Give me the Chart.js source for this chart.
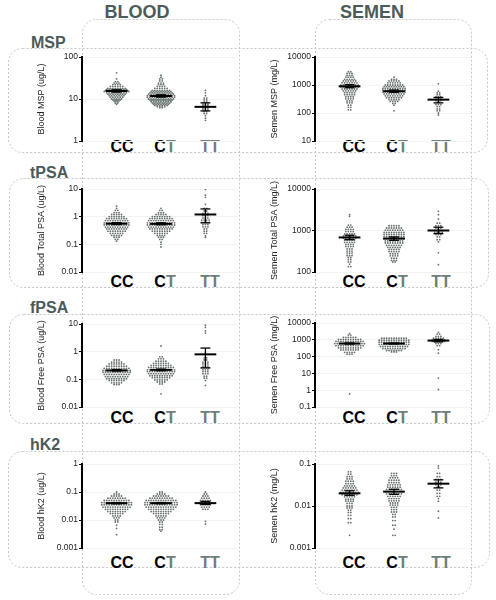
<!DOCTYPE html>
<html>
<head>
<meta charset="utf-8">
<script src="https://cdn.jsdelivr.net/npm/chart.js@4.4.0/dist/chart.umd.min.js"></script>
<style>
  body { margin: 0; background: #fff; font-family: "Liberation Sans", Arial, sans-serif; }
  #fig { position: relative; width: 496px; height: 600px; overflow: hidden; background: #fff; }
  #frames { position: absolute; left: 0; top: 0; }
  .hdr { position: absolute; font-weight: bold; font-size: 18px; line-height: 1; color: #4c5a5a; transform: translateX(-50%); }
  .rowlab { position: absolute; font-weight: bold; font-size: 16px; line-height: 1; color: #4c5a5a; }
  .cat { position: absolute; font-weight: bold; font-size: 16px; line-height: 1; transform: translateX(-50%); white-space: nowrap; }
  .c { color: #000; }
  .t { color: #6d7d7a; }
  canvas { position: absolute; }
</style>
</head>
<body>
<div id="fig">
  <svg id="frames" width="496" height="600">
    <g fill="none" stroke="#c6c6c6" stroke-width="1" stroke-dasharray="2 2">
      <rect x="82.5" y="19.5" width="157" height="575" rx="14"/>
      <rect x="315.5" y="19.5" width="156" height="575" rx="14"/>
      <rect x="8.5" y="48.5" width="479" height="104" rx="14"/>
      <rect x="9.5" y="178.5" width="479" height="109" rx="14"/>
      <rect x="9.5" y="314.5" width="480" height="109" rx="14"/>
      <rect x="8.5" y="451.5" width="481" height="116" rx="14"/>
    </g>
  </svg>

  <div class="hdr" style="left:137px;top:3px">BLOOD</div>
  <div class="hdr" style="left:372px;top:3px">SEMEN</div>

  <div class="rowlab" style="left:31px;top:35px">MSP</div>
  <div class="rowlab" style="left:30px;top:165px">tPSA</div>
  <div class="rowlab" style="left:30px;top:300px">fPSA</div>
  <div class="rowlab" style="left:30px;top:437px">hK2</div>

  <div id="cats"></div>
</div>

<script>
// categories
const groups = ['CC', 'CT', 'TT'];

// tick labels (log axes)
const bloodMspTicks  = [1, 10, 100];
const semenMspTicks  = [10, 100, 1000, 10000];
const bloodTpsaTicks = [0.01, 0.1, 1, 10];
const semenTpsaTicks = [100, 1000, 10000];
const bloodFpsaTicks = [0.01, 0.1, 1, 10];
const semenFpsaTicks = [0.1, 1, 10, 100, 1000, 10000];
const bloodHk2Ticks  = [0.001, 0.01, 0.1, 1];
const semenHk2Ticks  = [0.001, 0.01, 0.1];

// individual values: [value, number of dots at that level]
const bloodMspCC = [[42,1],[30,1],[26,2],[24,3],[22,4],[20,6],[18,8],[17,9],[16,10],[15,11],[14,9],[13,8],[12,7],[11,6],[10,5],[9.5,4],[9,3],[8.5,2],[8,2],[7.5,1]];
const bloodMspCT = [[37,1],[33,1],[30,2],[27,2],[24,3],[22,3],[20,4],[18,6],[16,8],[15,9],[14,10],[13,11],[12,12],[11,12],[10,11],[9.5,10],[9,9],[8.5,9],[8,8],[7.5,7],[7,6],[6.5,4],[6.2,2]];
const bloodMspTT = [[16,1],[14,1],[12,1],[10.5,2],[9.5,2],[8.5,2],[7.5,3],[7,3],[6.5,4],[6,3],[5.5,3],[5,2],[4.5,2],[4,1],[3.5,1],[3.1,1]];

const semenMspCC = [[3000,2],[2600,3],[2200,3],[1900,4],[1600,5],[1400,6],[1200,7],[1000,8],[850,8],[720,7],[620,6],[530,5],[450,5],[380,4],[320,4],[270,3],[230,3],[190,2],[160,2],[130,2]];
const semenMspCT = [[1900,1],[1600,3],[1400,5],[1200,6],[1000,8],[870,9],[750,10],[650,10],[560,10],[480,9],[410,8],[350,7],[300,5],[260,4],[220,2],[190,1],[120,1]];
const semenMspTT = [[1100,1],[600,1],[520,2],[450,2],[380,3],[320,3],[280,3],[240,2],[200,3],[170,2],[140,2],[120,2],[100,1],[85,1]];

const bloodTpsaCC = [[2.4,1],[2.0,1],[1.7,2],[1.4,3],[1.2,5],[1.0,7],[0.85,9],[0.72,10],[0.6,11],[0.5,11],[0.42,10],[0.36,9],[0.3,8],[0.25,6],[0.21,5],[0.18,3],[0.15,2],[0.13,1]];
const bloodTpsaCT = [[2.0,1],[1.7,2],[1.4,3],[1.2,5],[1.0,8],[0.85,10],[0.72,11],[0.6,12],[0.5,12],[0.42,11],[0.36,10],[0.3,8],[0.25,6],[0.21,4],[0.18,3],[0.15,2],[0.12,1],[0.1,1],[0.08,1]];
const bloodTpsaTT = [[9.5,1],[6,1],[5,1],[2.8,1],[2.0,2],[1.6,2],[1.3,3],[1.1,3],[0.9,3],[0.75,4],[0.62,4],[0.52,3],[0.43,3],[0.36,2],[0.3,2],[0.25,2],[0.2,1],[0.18,1]];

const semenTpsaCC = [[2400,1],[2200,1],[1350,2],[1200,3],[1060,4],[940,4],[830,5],[740,6],[660,6],[590,5],[520,5],[460,4],[410,4],[360,3],[320,3],[285,3],[250,3],[225,2],[200,2],[175,2],[155,1],[135,2]];
const semenTpsaCT = [[1300,5],[1150,7],[1020,8],[900,9],[800,9],[710,9],[630,9],[560,8],[500,8],[440,7],[390,6],[350,5],[310,5],[275,4],[245,4],[215,3],[190,3],[175,2]];
const semenTpsaTT = [[2900,1],[2400,1],[1900,1],[1500,2],[1300,3],[1150,3],[1000,4],[900,4],[800,3],[700,2],[600,2],[530,1],[290,1],[150,1]];

const bloodFpsaCC = [[0.5,3],[0.42,5],[0.36,7],[0.3,9],[0.25,11],[0.21,12],[0.18,12],[0.15,11],[0.125,10],[0.105,9],[0.09,7],[0.075,5],[0.065,3]];
const bloodFpsaCT = [[1.6,1],[0.65,2],[0.55,3],[0.45,5],[0.38,7],[0.32,9],[0.27,11],[0.22,12],[0.19,12],[0.16,11],[0.135,10],[0.115,8],[0.095,6],[0.08,4],[0.068,2],[0.03,1]];
const bloodFpsaTT = [[9,1],[7.5,1],[5.6,1],[4.7,1],[0.9,1],[0.6,2],[0.5,2],[0.42,3],[0.36,3],[0.3,3],[0.26,4],[0.22,3],[0.19,3],[0.16,3],[0.13,2],[0.11,2],[0.09,1],[0.06,1]];

const semenFpsaCC = [[2300,1],[1900,2],[1400,6],[1050,10],[800,12],[600,13],[450,12],[330,10],[250,8],[180,5],[140,3],[0.6,1]];
const semenFpsaCT = [[1250,11],[950,13],[720,13],[540,13],[400,12],[300,10],[230,7],[190,3]];
const semenFpsaTT = [[2800,1],[2200,2],[1600,3],[1250,5],[1000,6],[800,6],[600,3],[450,2],[260,1],[160,1],[5.3,1],[1.1,1]];

const bloodHk2CC = [[0.1,1],[0.085,3],[0.072,5],[0.06,8],[0.05,11],[0.042,13],[0.035,13],[0.029,12],[0.024,10],[0.02,8],[0.017,6],[0.014,4],[0.012,3],[0.01,2],[0.0085,2],[0.0065,1],[0.005,1],[0.003,1]];
const bloodHk2CT = [[0.1,2],[0.085,4],[0.072,7],[0.06,10],[0.05,13],[0.042,14],[0.035,14],[0.029,13],[0.024,11],[0.02,9],[0.017,7],[0.014,5],[0.012,4],[0.01,3],[0.0085,2],[0.007,2],[0.0055,2],[0.0045,2],[0.004,1]];
const bloodHk2TT = [[0.1,1],[0.085,2],[0.072,3],[0.06,4],[0.05,5],[0.042,6],[0.035,5],[0.029,4],[0.024,3],[0.009,1],[0.0072,1]];

const semenHk2CC = [[0.065,2],[0.057,2],[0.05,3],[0.044,3],[0.039,4],[0.034,4],[0.03,5],[0.027,6],[0.024,7],[0.021,8],[0.0185,7],[0.0165,5],[0.0145,4],[0.013,4],[0.0115,3],[0.01,3],[0.009,3],[0.008,2],[0.007,2],[0.006,2],[0.005,2],[0.004,2],[0.002,1]];
const semenHk2CT = [[0.06,3],[0.053,3],[0.047,4],[0.041,5],[0.036,5],[0.032,6],[0.028,6],[0.025,7],[0.022,8],[0.0195,7],[0.017,6],[0.015,5],[0.0133,5],[0.0118,4],[0.0105,4],[0.0093,3],[0.0082,3],[0.0072,3],[0.0063,2],[0.0055,2],[0.0045,2],[0.0035,2],[0.0028,1],[0.002,2]];
const semenHk2TT = [[0.09,1],[0.08,1],[0.06,2],[0.05,2],[0.043,3],[0.037,3],[0.032,3],[0.028,2],[0.024,2],[0.02,2],[0.017,2],[0.015,1],[0.013,1],[0.0075,1],[0.0052,1]];

// mean and SEM (low, high) for CC, CT, TT
const bloodMspMean  = [15.5, 11.8, 6.5];
const bloodMspSem   = [[14.6, 16.5], [11.1, 12.6], [5.2, 8.1]];
const semenMspMean  = [900, 600, 300];
const semenMspSem   = [[800, 1030], [550, 660], [230, 360]];
const bloodTpsaMean = [0.56, 0.55, 1.2];
const bloodTpsaSem  = [[0.52, 0.61], [0.51, 0.6], [0.6, 1.9]];
const semenTpsaMean = [680, 640, 1000];
const semenTpsaSem  = [[600, 770], [580, 700], [840, 1200]];
const bloodFpsaMean = [0.21, 0.22, 0.8];
const bloodFpsaSem  = [[0.2, 0.225], [0.205, 0.235], [0.26, 1.35]];
const semenFpsaMean = [600, 600, 900];
const semenFpsaSem  = [[560, 650], [570, 640], [750, 1050]];
const bloodHk2Mean  = [0.04, 0.04, 0.04];
const bloodHk2Sem   = [[0.038, 0.042], [0.038, 0.042], [0.036, 0.046]];
const semenHk2Mean  = [0.02, 0.022, 0.034];
const semenHk2Sem   = [[0.018, 0.023], [0.019, 0.025], [0.027, 0.042]];

// ---- layout ----
const FONT = '"Liberation Sans", Arial, sans-serif';
const DOT = '#66706e';
const PX_PER_UNIT = 45;
const X_MIN = 1 - 35 / PX_PER_UNIT;
const PLOT_W = 158;
const X_MAX = X_MIN + PLOT_W / PX_PER_UNIT;
const GAP = 2.5 / PX_PER_UNIT;
const MEAN_HW = 11 / PX_PER_UNIT;
const CAP_HW = 5 / PX_PER_UNIT;
const AXIS_W = 62;

const panels = [
  { left: 20,  top: 57,  bottom: 141, ticks: bloodMspTicks,  title: 'Blood MSP (ug/L)',        data: [bloodMspCC, bloodMspCT, bloodMspTT],    mean: bloodMspMean,  sem: bloodMspSem },
  { left: 253, top: 57,  bottom: 141, ticks: semenMspTicks,  title: 'Semen MSP (mg/L)',        data: [semenMspCC, semenMspCT, semenMspTT],    mean: semenMspMean,  sem: semenMspSem },
  { left: 20,  top: 189, bottom: 272, ticks: bloodTpsaTicks, title: 'Blood Total PSA (ug/L)',  data: [bloodTpsaCC, bloodTpsaCT, bloodTpsaTT], mean: bloodTpsaMean, sem: bloodTpsaSem },
  { left: 253, top: 189, bottom: 272, ticks: semenTpsaTicks, title: 'Semen Total PSA (mg/L)',  data: [semenTpsaCC, semenTpsaCT, semenTpsaTT], mean: semenTpsaMean, sem: semenTpsaSem },
  { left: 20,  top: 324, bottom: 407, ticks: bloodFpsaTicks, title: 'Blood Free PSA (ug/L)',   data: [bloodFpsaCC, bloodFpsaCT, bloodFpsaTT], mean: bloodFpsaMean, sem: bloodFpsaSem },
  { left: 253, top: 323, bottom: 407, ticks: semenFpsaTicks, title: 'Semen Free PSA (mg/L)',   data: [semenFpsaCC, semenFpsaCT, semenFpsaTT], mean: semenFpsaMean, sem: semenFpsaSem },
  { left: 20,  top: 464, bottom: 548, ticks: bloodHk2Ticks,  title: 'Blood hK2 (ug/L)',        data: [bloodHk2CC, bloodHk2CT, bloodHk2TT],    mean: bloodHk2Mean,  sem: bloodHk2Sem },
  { left: 253, top: 464, bottom: 548, ticks: semenHk2Ticks,  title: 'Semen hK2 (mg/L)',        data: [semenHk2CC, semenHk2CT, semenHk2TT],    mean: semenHk2Mean,  sem: semenHk2Sem }
];

// category label positions (x centres per column, y per row)
const catX = { 20: [122, 165, 210], 253: [354, 397, 441] };
const catTop = [139, 274, 410, 555];

// spread equal values side by side, centred on the category
function swarm(rows, c) {
  const pts = [];
  rows.forEach(([v, n]) => {
    for (let i = 0; i < n; i++) pts.push({ x: c + (i - (n - 1) / 2) * GAP, y: v });
  });
  return pts;
}

function seg(data, w) {
  return { data, showLine: true, borderColor: '#000', borderWidth: w, pointRadius: 0, order: 0 };
}

function buildDatasets(p) {
  const ds = [];
  p.data.forEach((rows, g) => {
    const c = g + 1;
    const m = p.mean[g];
    const [lo, hi] = p.sem[g];
    ds.push(seg([{ x: c - MEAN_HW, y: m }, { x: c + MEAN_HW, y: m }], 2));
    ds.push(seg([{ x: c, y: lo }, { x: c, y: hi }], 1.3));
    ds.push(seg([{ x: c - CAP_HW, y: lo }, { x: c + CAP_HW, y: lo }], 1.3));
    ds.push(seg([{ x: c - CAP_HW, y: hi }, { x: c + CAP_HW, y: hi }], 1.3));
    ds.push({ data: swarm(rows, c), pointRadius: 0.9, pointBackgroundColor: DOT, pointBorderWidth: 0, order: 1 });
  });
  return ds;
}

const fig = document.getElementById('fig');
const cats = document.getElementById('cats');

panels.forEach((p, k) => {
  const cv = document.createElement('canvas');
  const w = AXIS_W + PLOT_W + 2;
  const h = p.bottom - p.top + 20;
  cv.width = w; cv.height = h;
  cv.style.left = p.left + 'px';
  cv.style.top = (p.top - 10) + 'px';
  cv.style.width = w + 'px'; cv.style.height = h + 'px';
  fig.appendChild(cv);

  new Chart(cv.getContext('2d'), {
    type: 'scatter',
    data: { datasets: buildDatasets(p) },
    options: {
      responsive: false,
      animation: false,
      devicePixelRatio: 1,
      layout: { padding: { top: 10, bottom: 10, left: 0, right: 2 } },
      plugins: { legend: { display: false }, tooltip: { enabled: false } },
      scales: {
        x: { type: 'linear', display: false, min: X_MIN, max: X_MAX },
        y: {
          type: 'logarithmic',
          min: p.ticks[0],
          max: p.ticks[p.ticks.length - 1],
          afterBuildTicks: s => { s.ticks = p.ticks.map(v => ({ value: v })); },
          afterFit: s => { s.width = AXIS_W; },
          ticks: { callback: v => String(v), font: { size: 8.5, family: FONT }, color: '#222', padding: 1, autoSkip: false },
          grid: { drawOnChartArea: true, color: '#f3f3f3', tickColor: '#000', tickLength: 3, tickWidth: 1.2 },
          border: { display: true, color: '#000', width: 2 },
          title: { display: true, text: p.title, font: { size: 9, family: FONT }, color: '#222', padding: { top: 16, bottom: 0 } }
        }
      }
    }
  });

  // genotype labels, the T allele in grey
  const row = Math.floor(k / 2);
  groups.forEach((gname, g) => {
    const d = document.createElement('div');
    d.className = 'cat';
    d.style.left = catX[p.left][g] + 'px';
    d.style.top = catTop[row] + 'px';
    d.innerHTML = gname.split('').map(ch => `<span class="${ch === 'C' ? 'c' : 't'}">${ch}</span>`).join('');
    cats.appendChild(d);
  });
});
</script>
</body>
</html>
